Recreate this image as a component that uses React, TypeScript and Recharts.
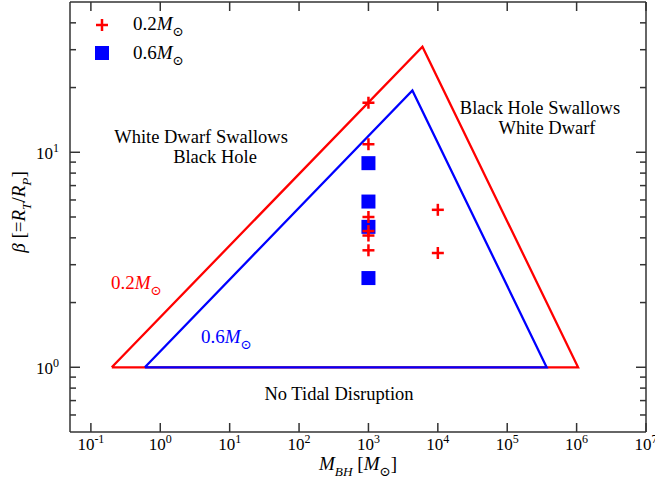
import React from 'react'
import { ScatterChart, Scatter, XAxis, YAxis } from 'recharts'

const FONT = "'Liberation Serif', 'DejaVu Serif', serif"
const RED = '#ff0000'
const BLUE = '#0000ff'
const AXIS = '#333'

// axis ranges and ticks
const xDomain = [0.05, 1e7]
const yDomain = [0.5, 50]
const xTicks = [0.1, 1, 10, 100, 1e3, 1e4, 1e5, 1e6, 1e7]
const xTickExps = ['-1', '0', '1', '2', '3', '4', '5', '6', '7']
const yMajorTicks = [1, 10]
const yMajorExps = ['0', '1']
const yMinorTicks = [0.6, 0.7, 0.8, 0.9, 2, 3, 4, 5, 6, 7, 8, 9, 20, 30, 40]
const yTicks = [...yMinorTicks, ...yMajorTicks].sort((a, b) => a - b)

// disruption boundaries (triangle vertices, closed)
const redEdgeMass = [0.2, 6000, 1.05e6, 0.2]
const redEdgeBeta = [1, 31, 1, 1]
const blueEdgeMass = [0.6, 4300, 3.7e5, 0.6]
const blueEdgeBeta = [1, 19.4, 1, 1]

// simulations
const redRunMass = [1e3, 1e3, 1e3, 1e3, 1e3, 1e3, 1e4, 1e4]
const redRunBeta = [17, 10.9, 5.0, 4.3, 4.1, 3.5, 5.4, 3.4]
const blueRunMass = [1e3, 1e3, 1e3, 1e3]
const blueRunBeta = [8.9, 5.9, 4.5, 2.6]

const zip = (ms: number[], bs: number[]) => ms.map((m, i) => ({ m, b: bs[i] }))
const redEdge = zip(redEdgeMass, redEdgeBeta)
const blueEdge = zip(blueEdgeMass, blueEdgeBeta)
const redRuns = zip(redRunMass, redRunBeta)
const blueRuns = zip(blueRunMass, blueRunBeta)

type Seg = { t: string; it?: boolean; sub?: boolean }

function MathText({ x, y, segs, size, fill = '#000', anchor = 'start', transform }: any) {
  let shift = 0
  return (
    <text x={x} y={y} fontSize={size} fill={fill} textAnchor={anchor} fontFamily={FONT} transform={transform}>
      {segs.map((s: Seg, i: number) => {
        const target = s.sub ? size * 0.3 : 0
        const dy = target - shift
        shift = target
        return (
          <tspan key={i} dy={dy} fontStyle={s.it ? 'italic' : 'normal'} fontSize={s.sub ? size * 0.7 : size}>
            {s.t}
          </tspan>
        )
      })}
    </text>
  )
}

const sunMass = (n: string): Seg[] => [{ t: n }, { t: 'M', it: true }, { t: '\u2299', sub: true }]

function Plus({ cx, cy }: any) {
  return (
    <g>
      <line x1={cx - 6} y1={cy} x2={cx + 6} y2={cy} stroke={RED} strokeWidth={2.5} />
      <line x1={cx} y1={cy - 6} x2={cx} y2={cy + 6} stroke={RED} strokeWidth={2.5} />
    </g>
  )
}

function Square({ cx, cy }: any) {
  return <rect x={cx - 7} y={cy - 7} width={14} height={14} fill={BLUE} />
}

const NoShape = () => <g />

function XTickBottom({ x, y, payload }: any) {
  const i = xTicks.indexOf(payload.value)
  return (
    <g>
      <line x1={x} y1={y} x2={x} y2={y - 9} stroke={AXIS} strokeWidth={1.5} />
      <text x={x} y={y + 18} textAnchor="middle" fontSize={17} fontFamily={FONT} fill="#000">
        10<tspan dy={-7} fontSize={12}>{xTickExps[i]}</tspan>
      </text>
    </g>
  )
}

function XTickTop({ x, y }: any) {
  return <line x1={x} y1={y} x2={x} y2={y + 9} stroke={AXIS} strokeWidth={1.5} />
}

function YTickLeft({ x, y, payload }: any) {
  const i = yMajorTicks.indexOf(payload.value)
  const major = i >= 0
  return (
    <g>
      <line x1={x} y1={y} x2={x + (major ? 10 : 6)} y2={y} stroke={AXIS} strokeWidth={1.5} />
      {major && (
        <text x={x - 11} y={y + 7} textAnchor="end" fontSize={17} fontFamily={FONT} fill="#000">
          10<tspan dy={-7} fontSize={12}>{yMajorExps[i]}</tspan>
        </text>
      )}
    </g>
  )
}

function YTickRight({ x, y, payload }: any) {
  const major = yMajorTicks.includes(payload.value)
  return <line x1={x} y1={y} x2={x - (major ? 10 : 6)} y2={y} stroke={AXIS} strokeWidth={1.5} />
}

export default function App() {
  const axisLine = { stroke: AXIS, strokeWidth: 1.5 }
  const common = { type: 'number' as const, scale: 'log' as const, allowDataOverflow: true, tickLine: false, tickSize: 0, tickMargin: 0, interval: 0 as const, axisLine }
  return (
    <div style={{ position: 'absolute', left: 0, top: 0, width: 655, height: 484, background: '#fff' }}>
      <ScatterChart width={655} height={484} margin={{ top: 0, right: 0, bottom: 0, left: 8 }}>
        <XAxis xAxisId="b" dataKey="m" {...common} domain={xDomain} ticks={xTicks} height={52} tick={<XTickBottom />} />
        <XAxis xAxisId="t" dataKey="m" orientation="top" {...common} domain={xDomain} ticks={xTicks} height={2} tick={<XTickTop />} />
        <YAxis yAxisId="l" dataKey="b" {...common} domain={yDomain} ticks={yTicks} width={62} tick={<YTickLeft />} />
        <YAxis yAxisId="r" dataKey="b" orientation="right" {...common} domain={yDomain} ticks={yTicks} width={9} tick={<YTickRight />} />
        <Scatter xAxisId="t" yAxisId="r" data={redEdge} shape={NoShape} isAnimationActive={false} />
        <Scatter xAxisId="b" yAxisId="l" data={redEdge} line={{ stroke: RED, strokeWidth: 2.3 }} shape={NoShape} isAnimationActive={false} />
        <Scatter xAxisId="b" yAxisId="l" data={blueEdge} line={{ stroke: BLUE, strokeWidth: 2.3 }} shape={NoShape} isAnimationActive={false} />
        <Scatter xAxisId="b" yAxisId="l" data={blueRuns} shape={<Square />} isAnimationActive={false} />
        <Scatter xAxisId="b" yAxisId="l" data={redRuns} shape={<Plus />} isAnimationActive={false} />
      </ScatterChart>
      <svg width={655} height={484} style={{ position: 'absolute', left: 0, top: 0, pointerEvents: 'none' }}>
        {/* legend */}
        <Plus cx={102} cy={25} />
        <Square cx={102} cy={53} />
        <MathText x={133} y={30} size={19} segs={sunMass('0.2')} />
        <MathText x={133} y={59} size={19} segs={sunMass('0.6')} />
        {/* curve labels */}
        <MathText x={111} y={289} size={19} fill={RED} segs={sunMass('0.2')} />
        <MathText x={201} y={343} size={19} fill={BLUE} segs={sunMass('0.6')} />
        {/* region annotations */}
        <text x={201} y={143} fontSize={18.5} fontFamily={FONT} textAnchor="middle">White Dwarf Swallows</text>
        <text x={215} y={163} fontSize={18.5} fontFamily={FONT} textAnchor="middle">Black Hole</text>
        <text x={540} y={114} fontSize={18.5} fontFamily={FONT} textAnchor="middle">Black Hole Swallows</text>
        <text x={547} y={134} fontSize={18.5} fontFamily={FONT} textAnchor="middle">White Dwarf</text>
        <text x={339} y={400} fontSize={18.5} fontFamily={FONT} textAnchor="middle">No Tidal Disruption</text>
        {/* axis titles */}
        <MathText x={358} y={470} size={19} anchor="middle"
          segs={[{ t: 'M', it: true }, { t: 'BH', it: true, sub: true }, { t: ' [' }, { t: 'M', it: true }, { t: '\u2299', sub: true }, { t: ']' }]} />
        <MathText x={0} y={0} size={19} anchor="middle" transform="translate(25 212) rotate(-90)"
          segs={[{ t: '\u03b2', it: true }, { t: ' [=' }, { t: 'R', it: true }, { t: 'T', it: true, sub: true }, { t: '/' }, { t: 'R', it: true }, { t: 'P', it: true, sub: true }, { t: ']' }]} />
      </svg>
    </div>
  )
}
